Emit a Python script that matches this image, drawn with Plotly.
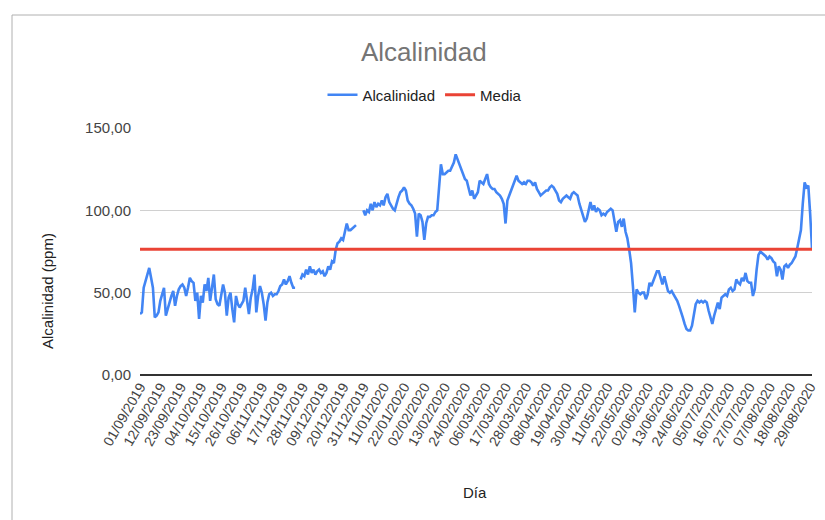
import pandas as pd
import plotly.graph_objects as go

# Daily alkalinity readings (ppm) from 01/09/2019; None = no sample that day
START_DATE = "2019-09-01"
ALCALINIDAD = [
    37, 38, 53, 57, 60, 65, 59, 53, 35, 36,
    38, 45, 49, 53, 36, 40, 45, 48, 51, 42,
    48, 52, 54, 55, 53, 48, 53, 59, 57, 56,
    45, 50, 34, 48, 44, 55, 51, 59, 45, 55,
    61, 46, 43, 42, 50, 55, 50, 36, 47, 50,
    40, 32, 48, 43, 41, 43, 45, 53, 45, 37,
    47, 52, 61, 38, 48, 54, 50, 43, 33, 44,
    49, 50, 48, 49, 49, 51, 54, 55, 58, 55,
    57, 60, 56, 53, 53, None, None, 58, 61, 60,
    64, 61, 66, 62, 64, 61, 63, 64, 62, 63,
    60, 62, 66, 64, 69, 68, 76, 80, 81, 83,
    82, 87, 92, 88, 88, 89, 90, 91, None, None,
    None, 100, 97, 100, 99, 104, 100, 105, 102, 104,
    103, 106, 103, 108, 110, 105, 103, 101, 100, 105,
    108, 111, 112, 114, 112, 106, 104, 103, 101, 98,
    84, 98, 97, 93, 82, 92, 96, 96, 97, 97,
    99, 100, 116, 128, 122, 122, 123, 124, 124, 127,
    129, 134, 131, 128, 124, 122, 119, 118, 114, 109,
    112, 107, 109, 111, 118, 117, 116, 119, 122, 116,
    114, 113, 113, 111, 110, 109, 107, 104, 92, 106,
    109, 112, 116, 119, 121, 118, 117, 116, 117, 116,
    118, 118, 117, 115, 117, 113, 111, 109, 110, 111,
    112, 112, 114, 115, 114, 112, 110, 106, 105, 107,
    108, 109, 108, 107, 110, 111, 110, 109, 104, 100,
    96, 93, 95, 101, 105, 100, 103, 99, 101, 100,
    97, 98, 97, 99, 100, 101, 100, 94, 87, 93,
    94, 90, 95, 87, 83, 76, 68, 54, 38, 52,
    50, 49, 50, 50, 46, 49, 56, 54, 57, 60,
    63, 63, 59, 55, 60, 56, 51, 50, 51, 49,
    47, 45, 42, 39, 35, 31, 28, 27, 27, 30,
    37, 43, 45, 44, 45, 44, 45, 44, 39, 34,
    31, 36, 41, 44, 40, 47, 48, 49, 48, 52,
    53, 51, 52, 58, 56, 55, 59, 57, 62, 57,
    56, 56, 48, 52, 64, 73, 75, 74, 73, 72,
    70, 72, 71, 69, 68, 60, 66, 64, 58, 66,
    67, 65, 67, 68, 70, 72, 77, 82, 88, 104,
    117, 114, 115, 98, 77,
]
MEDIA = 76.4

X_TICK_LABELS = [
    "01/09/2019", "12/09/2019", "23/09/2019", "04/10/2019", "15/10/2019",
    "26/10/2019", "06/11/2019", "17/11/2019", "28/11/2019", "09/12/2019",
    "20/12/2019", "31/12/2019", "11/01/2020", "22/01/2020", "02/02/2020",
    "13/02/2020", "24/02/2020", "06/03/2020", "17/03/2020", "28/03/2020",
    "08/04/2020", "19/04/2020", "30/04/2020", "11/05/2020", "22/05/2020",
    "02/06/2020", "13/06/2020", "24/06/2020", "05/07/2020", "16/07/2020",
    "27/07/2020", "07/08/2020", "18/08/2020", "29/08/2020",
]
Y_TICK_VALUES = [0, 50, 100, 150]
Y_TICK_LABELS = ["0,00", "50,00", "100,00", "150,00"]

dates = pd.date_range(START_DATE, periods=len(ALCALINIDAD), freq="D")
tick_dates = pd.to_datetime(X_TICK_LABELS, format="%d/%m/%Y")

W, H = 825, 520
L, R, T, B = 140, 13, 128, 145
PW, PH = W - L - R, H - T - B


def px(x, y):
    """Convert absolute pixel coordinates to paper coordinates."""
    return (x - L) / PW, (H - B - y) / PH


FONT = "Liberation Sans, Arial, sans-serif"

fig = go.Figure()
fig.add_trace(go.Scatter(
    x=dates, y=ALCALINIDAD, name="Alcalinidad", mode="lines",
    line=dict(color="#4285F4", width=2.6), connectgaps=False,
))
fig.add_trace(go.Scatter(
    x=dates, y=[MEDIA] * len(dates), name="Media", mode="lines",
    line=dict(color="#EA4335", width=3),
))

tx, ty = px(424, 52)
lx, ly = px(425, 95)
ax_x, ax_y = px(475, 492)
ay_x, ay_y = px(47, 291)
bx0, by0 = px(12, 15)
bx1, by1 = px(W, H)

fig.update_layout(
    width=W, height=H,
    margin=dict(l=L, r=R, t=T, b=B, autoexpand=False),
    paper_bgcolor="white", plot_bgcolor="white",
    font=dict(family=FONT, color="#444"),
    showlegend=True,
    legend=dict(
        orientation="h", x=lx, y=ly, xanchor="center", yanchor="middle",
        font=dict(size=15, color="#222", family=FONT),
        itemwidth=30, bgcolor="rgba(0,0,0,0)",
    ),
    annotations=[
        dict(text="Alcalinidad", x=tx, y=ty, xref="paper", yref="paper",
             showarrow=False, font=dict(size=26, color="#757575", family=FONT),
             xanchor="center", yanchor="middle"),
        dict(text="Día", x=ax_x, y=ax_y, xref="paper", yref="paper",
             showarrow=False, font=dict(size=15, color="#222", family=FONT),
             xanchor="center", yanchor="middle"),
        dict(text="Alcalinidad (ppm)", x=ay_x, y=ay_y, xref="paper", yref="paper",
             showarrow=False, textangle=-90,
             font=dict(size=15, color="#222", family=FONT),
             xanchor="center", yanchor="middle"),
    ],
    shapes=[
        dict(type="line", xref="paper", yref="paper", x0=bx0, y0=by0, x1=bx0, y1=by1,
             line=dict(color="#b0b0b0", width=1)),
        dict(type="line", xref="paper", yref="paper", x0=bx0, y0=by0, x1=bx1, y1=by0,
             line=dict(color="#b0b0b0", width=1)),
    ],
)

fig.update_xaxes(
    type="date", range=[dates[0], dates[-1]],
    tickmode="array", tickvals=tick_dates, ticktext=X_TICK_LABELS,
    tickangle=-60, tickfont=dict(size=14, color="#444", family=FONT),
    showgrid=False, ticks="", showline=False, zeroline=False,
)
fig.update_yaxes(
    range=[0, 150], tickmode="array", tickvals=Y_TICK_VALUES, ticktext=Y_TICK_LABELS,
    tickfont=dict(size=15, color="#444", family=FONT),
    showgrid=True, gridcolor="#d0d0d0", gridwidth=1,
    zeroline=True, zerolinecolor="#333", zerolinewidth=1.5,
    ticks="", ticklabelstandoff=8, showline=False,
)

fig.write_html("out.html")
